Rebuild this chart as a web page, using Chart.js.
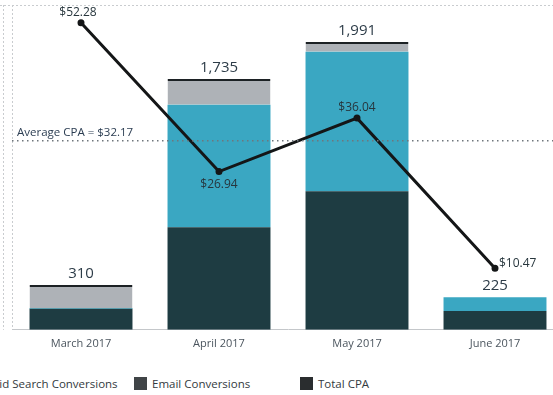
<!DOCTYPE html>
<html>
<head>
<meta charset="utf-8">
<script src="https://cdn.jsdelivr.net/npm/chart.js@4/dist/chart.umd.min.js"></script>
<style>
  html, body { margin: 0; padding: 0; background: #fff; overflow: hidden; }
  body { width: 553px; height: 395px; position: relative; }
  #wrap { position: absolute; left: 0; top: 0; width: 580px; height: 360px; }
  #legend { position: absolute; left: -32px; top: 376px; display: flex; font-family: "Open Sans", sans-serif; font-size: 11.5px; color: #333a40; white-space: nowrap; }
  #legend .item { width: 166px; display: flex; align-items: center; }
  #legend .sw { width: 13px; height: 13px; margin-right: 5px; flex: none; }
</style>
</head>
<body>
<div id="wrap"><canvas id="c"></canvas></div>
<div id="legend"></div>
<script>
// Monthly conversions (stacked) and cost per acquisition (line)
const months = ['March 2017', 'April 2017', 'May 2017', 'June 2017'];
const otherConversions = [145, 710, 958, 130];
const paidSearchConversions = [5, 847, 965, 95];
const emailConversions = [160, 178, 68, 0];
const totalCPA = [52.28, 26.94, 36.04, 10.47];
const averageCPA = 32.17;

const legendLabels = ['Paid Search Conversions', 'Email Conversions', 'Total CPA'];
const legendSwatches = ['#3aa7c2', '#404447', '#2a2d2f'];

const totals = months.map((_, i) => otherConversions[i] + paidSearchConversions[i] + emailConversions[i]);

const FONT = '"Open Sans", sans-serif';

// Pane borders, average reference line and value labels
const annotate = {
  id: 'annotate',
  beforeDraw(chart) {
    const { ctx, chartArea: a } = chart;
    ctx.save();
    ctx.strokeStyle = '#c9cccf';
    ctx.lineWidth = 1;
    ctx.setLineDash([2, 2]);
    ctx.beginPath();
    ctx.moveTo(0, a.top + 0.5); ctx.lineTo(chart.width, a.top + 0.5);
    ctx.moveTo(3.5, a.top); ctx.lineTo(3.5, a.bottom);
    ctx.moveTo(a.left + 0.5, a.top); ctx.lineTo(a.left + 0.5, a.bottom);
    ctx.stroke();
    ctx.restore();
  },
  afterDatasetsDraw(chart) {
    const { ctx, chartArea: a, scales } = chart;
    const yAvg = scales.y2.getPixelForValue(averageCPA);
    ctx.save();
    ctx.strokeStyle = '#6f767c';
    ctx.lineWidth = 1.5;
    ctx.setLineDash([1.5, 3.5]);
    ctx.beginPath();
    ctx.moveTo(a.left, yAvg); ctx.lineTo(a.right, yAvg);
    ctx.stroke();
    ctx.restore();
  },
  afterDraw(chart) {
    const { ctx, chartArea: a, scales } = chart;
    ctx.save();
    // average label
    const yAvg = scales.y2.getPixelForValue(averageCPA);
    ctx.font = '500 11.5px ' + FONT;
    ctx.fillStyle = '#2b3d52';
    ctx.textAlign = 'left';
    ctx.textBaseline = 'middle';
    ctx.fillText('Average CPA = $' + averageCPA.toFixed(2), a.left + 5, yAvg - 8);

    // totals above bars
    ctx.font = '15px ' + FONT;
    ctx.fillStyle = '#2d3c48';
    ctx.textAlign = 'center';
    ctx.textBaseline = 'bottom';
    totals.forEach((t, i) => {
      const x = scales.x.getPixelForValue(i);
      const y = scales.y.getPixelForValue(t);
      ctx.fillText(t.toLocaleString('en-US'), x, y - 4);
    });

    // CPA point labels
    const pts = chart.getDatasetMeta(3).data;
    const place = [
      { dx: -3, dy: -10, align: 'center' },
      { dx: 0, dy: 13, align: 'center' },
      { dx: 0, dy: -11, align: 'center' },
      { dx: 4, dy: -5, align: 'left' }
    ];
    ctx.font = '12px ' + FONT;
    ctx.fillStyle = '#27363d';
    ctx.textBaseline = 'middle';
    pts.forEach((p, i) => {
      const o = place[i];
      ctx.textAlign = o.align;
      ctx.fillText('$' + totalCPA[i].toFixed(2), p.x + o.dx, p.y + o.dy);
    });
    ctx.restore();
  }
};

const barCommon = { yAxisID: 'y', categoryPercentage: 1, barPercentage: 0.746, order: 2, stack: 'conv' };

new Chart(document.getElementById('c'), {
  type: 'bar',
  data: {
    labels: months,
    datasets: [
      Object.assign({ label: 'Other Conversions', data: otherConversions, backgroundColor: '#1e3c42' }, barCommon),
      Object.assign({ label: 'Paid Search Conversions', data: paidSearchConversions, backgroundColor: '#3aa7c2' }, barCommon),
      Object.assign({
        label: 'Email Conversions', data: emailConversions, backgroundColor: '#aeb2b7',
        borderColor: '#1c2124', borderWidth: [{ top: 2 }, { top: 2 }, { top: 2 }, 0]
      }, barCommon),
      {
        type: 'line', label: 'Total CPA', data: totalCPA, yAxisID: 'y2', order: 0,
        borderColor: '#141617', backgroundColor: '#141617', borderWidth: 3,
        pointRadius: 2, pointHoverRadius: 2, tension: 0
      }
    ]
  },
  options: {
    responsive: true,
    maintainAspectRatio: false,
    animation: false,
    layout: { padding: { top: 5, left: 12, right: 16, bottom: 3 } },
    plugins: { legend: { display: false }, tooltip: { enabled: false } },
    scales: {
      x: {
        stacked: true,
        offset: true,
        grid: { display: false, drawTicks: false },
        border: { display: true, color: '#c4c7ca', width: 1 },
        ticks: { font: { family: FONT, size: 11 }, color: '#4b555e', padding: 7 }
      },
      y: { stacked: true, display: false, min: 0, max: 2247 },
      y2: { display: false, min: 0, max: 55.3 }
    }
  },
  plugins: [annotate]
});

// Legend
const legend = document.getElementById('legend');
legendLabels.forEach((label, i) => {
  const item = document.createElement('div');
  item.className = 'item';
  const sw = document.createElement('span');
  sw.className = 'sw';
  sw.style.background = legendSwatches[i];
  const tx = document.createElement('span');
  tx.textContent = label;
  item.appendChild(sw);
  item.appendChild(tx);
  legend.appendChild(item);
});
</script>
</body>
</html>
